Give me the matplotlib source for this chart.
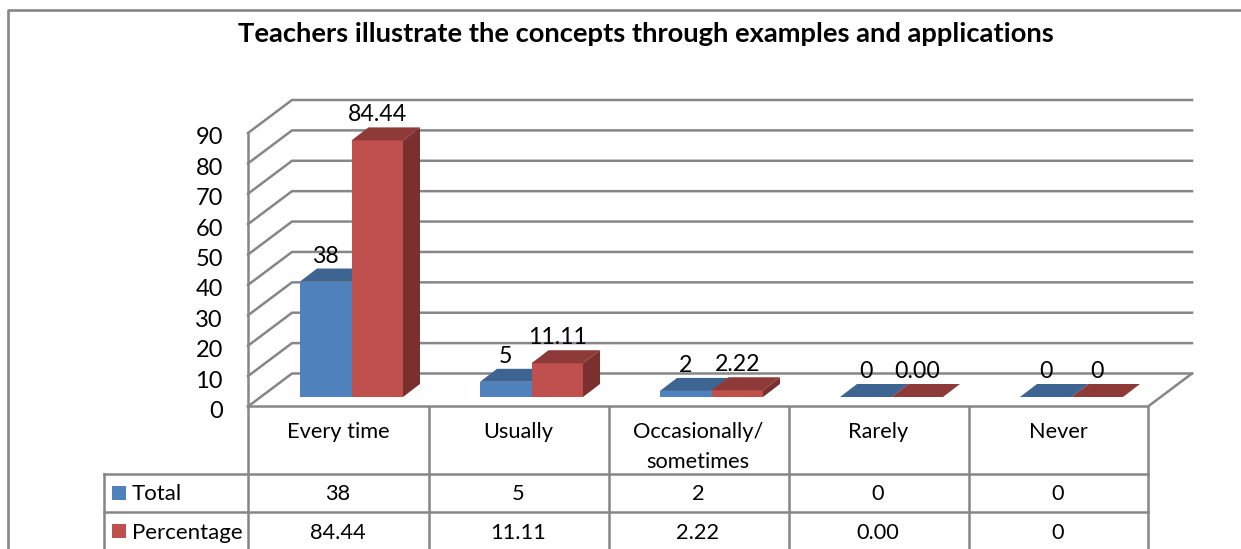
import matplotlib
matplotlib.use('Agg')
import matplotlib.pyplot as plt
from matplotlib.patches import Rectangle
from matplotlib.transforms import blended_transform_factory

plt.rcParams['font.family'] = ['Lato', 'DejaVu Sans']

title = 'Teachers illustrate the concepts through examples and applications'
categories = ['Every time', 'Usually', 'Occasionally/\nsometimes', 'Rarely', 'Never']
total = [38, 5, 2, 0, 0]
percentage = [84.44, 11.11, 2.22, 0.00, 0]
total_labels = ['38', '5', '2', '0', '0']
percentage_labels = ['84.44', '11.11', '2.22', '0.00', '0']
y_ticks = [0, 10, 20, 30, 40, 50, 60, 70, 80, 90]

W, H = 1241, 549
GRID = '#868686'
BLUE = ('#4F81BD', '#3E6491')
RED = ('#C0504D', '#8E3A38', '#7A302E')

fig = plt.figure(figsize=(W / 100, H / 100), dpi=100)

# page layer, in pixels: frame and table lines
page = fig.add_axes([0, 0, 1, 1])
page.set_xlim(0, W)
page.set_ylim(H, 0)
page.axis('off')

# chart layer: x in categories, y in values, set on the front plane
left, right, y0, y90 = 248, 1148, 406.5, 133
ax = fig.add_axes([left / W, 1 - y0 / H, (right - left) / W, (y0 - y90) / H])
ax.set_xlim(0, 5)
ax.set_ylim(0, 90)
ax.axis('off')
ax.patch.set_alpha(0)

px_x = 5 / (right - left)
px_y = 90 / (y0 - y90)


def line(a, xs, ys, lw=1.8, color=GRID):
    a.plot(xs, ys, color=color, lw=lw, clip_on=False, solid_capstyle='projecting', zorder=1)


# frame
line(page, [8, 8, W], [H, 10, 10], lw=1.9)

# walls
wall_x, wall_y = 44 * px_x, 33 * px_y
for t in y_ticks:
    line(ax, [0, wall_x, 5 + wall_x], [t, t + wall_y, t + wall_y])
    ax.text(-25 * px_x, t - 3 * px_y, str(t), ha='right', va='center_baseline', fontsize=17, color='black', clip_on=False)
line(ax, [0, 0], [0, 90])
line(ax, [0, 5, 5 + wall_x], [0, 0, wall_y])

# table
row_lines = [474, 512]
col_lines = [248, 428.5, 608.5, 788.5, 968.5, 1148]
for x in col_lines:
    line(page, [x, x], [y0, H])
line(page, [104, 104], [474, H])
for y in row_lines:
    line(page, [104, 1148], [y, y])

for y, c in zip([486, 524], [BLUE[0], RED[0]]):
    page.add_patch(Rectangle((112, y), 14, 14, color=c, lw=0))
page.text(132, 494, 'Total', ha='left', va='center', fontsize=16)
page.text(132, 533, 'Percentage', ha='left', va='center', fontsize=16)
page.text(646, 34.5, title, ha='center', va='center', fontsize=19.7, fontweight='bold')

# bars
bar_w = 0.2861
bar_x = 0.2889
depth_x, depth_y = 17 * px_x, 13 * px_y
floor = 9.5 * px_y


def bar(x, v, colors):
    x1 = x + bar_w
    top = floor + v
    if v > 0:
        ax.fill([x, x1, x1, x], [floor, floor, top, top], color=colors[0], lw=0, clip_on=False, zorder=3)
    ax.fill([x, x + depth_x, x1 + depth_x, x1], [top, top + depth_y, top + depth_y, top],
            color=colors[1], lw=0, clip_on=False, zorder=3)
    if v > 0 and len(colors) > 2:
        ax.fill([x1, x1 + depth_x, x1 + depth_x, x1], [floor, floor + depth_y, top + depth_y, top],
                color=colors[2], lw=0, clip_on=False, zorder=3)


label_gap = 25.5 * px_y
for i in range(len(categories)):
    bar(i + bar_x, total[i], BLUE)
    bar(i + bar_x + bar_w, percentage[i], RED)
    ax.text(i + bar_x + bar_w / 2, floor + total[i] + label_gap, total_labels[i],
            ha='center', va='center', fontsize=16.7, clip_on=False, zorder=5)
    ax.text(i + bar_x + bar_w * 1.5, floor + percentage[i] + label_gap, percentage_labels[i],
            ha='center', va='center', fontsize=16.7, clip_on=False, zorder=5)

# table text, x from the categories, y in pixels
trans = blended_transform_factory(ax.transData, page.transData)
for i, c in enumerate(categories):
    y = 447 if '\n' in c else 432
    ax.text(i + 0.5, y, c, transform=trans, ha='center', va='center', fontsize=15.7, linespacing=1.6, clip_on=False)
    ax.text(i + 0.5, 494, total_labels[i], transform=trans, ha='center', va='center', fontsize=15.7, clip_on=False)
    ax.text(i + 0.5, 533, percentage_labels[i], transform=trans, ha='center', va='center', fontsize=15.7, clip_on=False)

fig.savefig('out.png', dpi=100)
